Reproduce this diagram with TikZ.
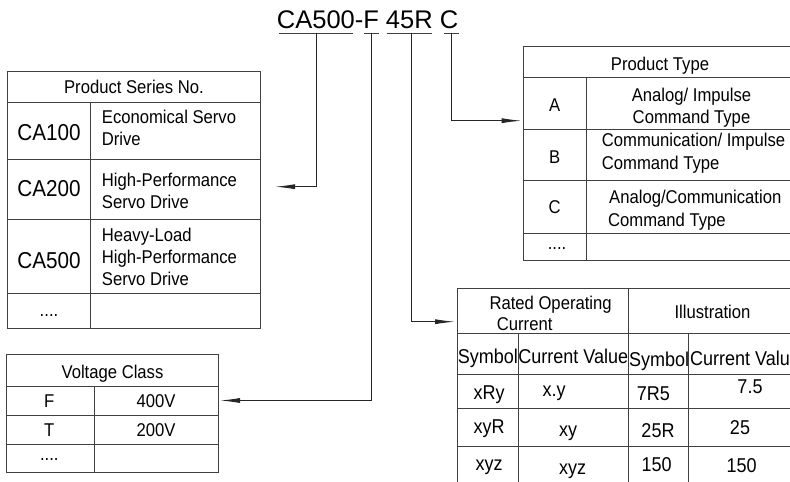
\documentclass[tikz,border=0pt]{standalone}
\usepackage{fontspec}
\setmainfont{Liberation Sans}
\newfontfamily\narrowsf{Liberation Sans}[FakeStretch=0.9]
\usetikzlibrary{arrows.meta}

\begin{document}
\begin{tikzpicture}[x=1pt,y=-1pt,
		grid/.style={draw=black!75,line width=1pt},
		link/.style={draw=black!85,line width=1pt,-{Latex[length=20pt,width=5pt]}},
		cell/.style={inner sep=0pt,anchor=base,font=\narrowsf\fontsize{18.5}{21.7}\selectfont},
		code/.style={inner sep=0pt,anchor=base,font=\narrowsf\fontsize{23}{26}\selectfont},
		val/.style={inner sep=0pt,anchor=base,font=\narrowsf\fontsize{20}{24}\selectfont}]
	
	\useasboundingbox (0,0) rectangle (790,482);
	\clip (0,0) rectangle (790,482);
	
	% model code with its four fields
	\node[inner sep=0pt,anchor=base west,font=\fontsize{25.5}{30}\selectfont] (model) at (276.7,28.3) {CA500-F 45R C};
	\draw[grid] (279.3,33.3) -- (353.3,33.3);
	\draw[grid] (364,33.3) -- (379.3,33.3);
	\draw[grid] (386.7,33.3) -- (432,33.3);
	\draw[grid] (444,33.3) -- (459.3,33.3);
	\coordinate (serbr) at (316.7,33.3);
	\coordinate (voltbr) at (371.7,33.3);
	\coordinate (currbr) at (411.7,33.3);
	\coordinate (typebr) at (451.7,33.3);
	
	% product series table
	\draw[grid] (7.3,71) rectangle (260.7,328.7);
	\foreach \y in {102.7,159,219.3,293.3}
		\draw[grid] (7.3,\y) -- (260.7,\y);
	\draw[grid] (90.7,102.7) -- (90.7,328.7);
	\node[cell] (serhead) at (134,93.4) {Product Series No.};
	\node[code] (ca100) at (49,140.8) {CA100};
	\node[code] (ca200) at (49,196.6) {CA200};
	\node[code] (ca500) at (49,268.3) {CA500};
	\node[cell] (sermore) at (49,316.5) {....};
	% base of a multi-line cell is its last line
	\node[cell,anchor=base west,align=left] (ca100txt) at (101.7,145.1) {Economical Servo\\Drive};
	\node[cell,anchor=base west,align=left] (ca200txt) at (101.7,208.4) {High-Performance\\Servo Drive};
	\node[cell,anchor=base west,align=left] (ca500txt) at (101.7,285.1) {Heavy-Load\\High-Performance\\Servo Drive};
	\coordinate (serin) at (275,186.7);
	
	% voltage class table
	\draw[grid] (6.7,354.7) rectangle (218.3,472.7);
	\foreach \y in {386.7,415.7,444.3}
		\draw[grid] (6.7,\y) -- (218.3,\y);
	\draw[grid] (94,386.7) -- (94,472.7);
	\node[cell] (volthead) at (112.5,378.4) {Voltage Class};
	\node[cell] (voltf) at (49.3,407.4) {F};
	\node[cell] (voltfval) at (156,407.4) {400V};
	\node[cell] (voltt) at (49.3,436.7) {T};
	\node[cell] (volttval) at (156,436.7) {200V};
	\node[cell] (voltmore) at (49.3,460) {....};
	\coordinate (voltin) at (220,400.5);
	
	% product type table
	\draw[grid] (523.3,46.7) rectangle (797,260.7);
	\foreach \y in {77.7,129.3,180,233.3}
		\draw[grid] (523.3,\y) -- (797,\y);
	\draw[grid] (586,77.7) -- (586,260.7);
	\node[cell] (typehead) at (660,70.7) {Product Type};
	\node[cell] (typea) at (554.7,111.7) {A};
	\node[cell] (typeb) at (554.7,163.4) {B};
	\node[cell] (typec) at (554.7,213.4) {C};
	\node[cell] (typemore) at (557,249.5) {....};
	\node[cell,align=center] (typeatxt) at (691.5,123.4) {Analog/ Impulse\\Command Type};
	\node[cell,anchor=base west,align=left] (typebtxt) at (601.7,169.9) {Communication/ Impulse\\[1.5pt]Command Type};
	\node[cell,anchor=base west,align=left] (typectxt) at (609,226.1) {Analog/Communication\\[1pt]\hspace*{-1pt}Command Type};
	\coordinate (typein) at (521.7,120.7);
	
	% rated current table
	\draw[grid] (457.3,288.3) rectangle (797,500);
	\foreach \y in {333.3,374,408.3,446}
		\draw[grid] (457.3,\y) -- (797,\y);
	\draw[grid] (628.3,288.3) -- (628.3,500);
	\draw[grid] (518.3,333.3) -- (518.3,500);
	\draw[grid] (688.3,333.3) -- (688.3,500);
	\node[cell,anchor=base west,align=left] (currhead) at (489.3,330.7) {Rated Operating\\\hspace*{7.4pt}Current};
	\node[cell] (illhead) at (712.5,318.4) {Illustration};
	\node[val] (symhead) at (487.8,363) {Symbol};
	\node[val] (valhead) at (573.3,363) {Current Value};
	\node[val] (exsymhead) at (659.2,366) {Symbol};
	\node[val] (exvalhead) at (745,365) {Current Value};
	\node[val] (sym1) at (489,399.3) {xRy};
	\node[val] (val1) at (554,396) {x.y};
	\node[val] (exsym1) at (653.3,400.7) {7R5};
	\node[val] (exval1) at (750,393.3) {7.5};
	\node[val] (sym2) at (489,433.3) {xyR};
	\node[val] (val2) at (568,436) {xy};
	\node[val] (exsym2) at (658,437.3) {25R};
	\node[val] (exval2) at (740,434) {25};
	\node[val] (sym3) at (489,470.7) {xyz};
	\node[val] (val3) at (572.5,474) {xyz};
	\node[val] (exsym3) at (656.7,471) {150};
	\node[val] (exval3) at (741.7,472.7) {150};
	\coordinate (currin) at (455,321.7);
	
	% connectors from the code fields
	\draw[link] (serbr) |- (serin);
	\draw[link] (voltbr) |- (voltin);
	\draw[link] (currbr) |- (currin);
	\draw[link] (typebr) |- (typein);
	
\end{tikzpicture}
\end{document}
